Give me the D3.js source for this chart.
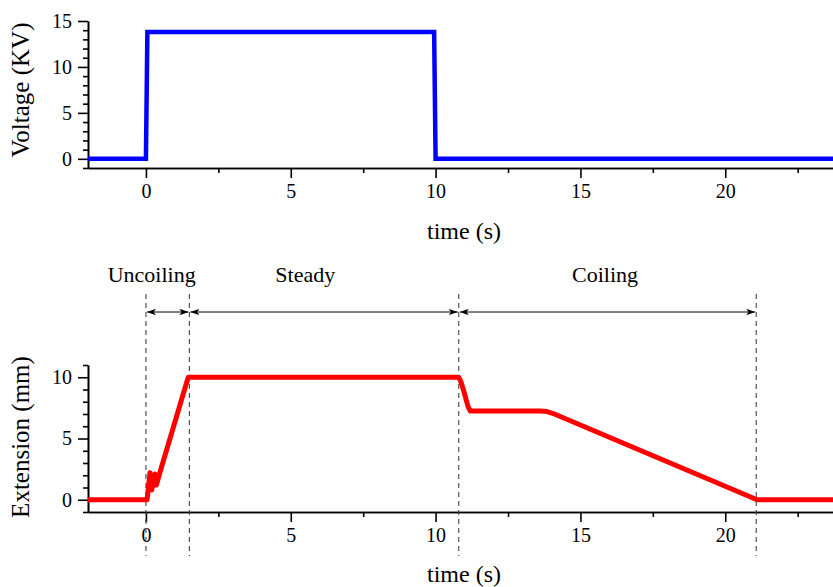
<!DOCTYPE html>
<html>
<head>
<meta charset="utf-8">
<script src="https://cdn.jsdelivr.net/npm/d3@7"></script>
<style>
  body { margin: 0; background: #fff; }
  svg text { font-family: "Liberation Serif", "Times New Roman", serif !important; fill: #000; }
</style>
</head>
<body>
<script>
// voltage trace (s, kV)
var voltTime = [-2, 0, 0.05, 9.95, 10.0, 23.8];
var voltValue = [0, 0, 13.8, 13.8, 0, 0];

// extension trace (s, mm)
var extTime = [-2, 0.04, 0.14, 0.2, 0.31, 0.36, 0.48, 1.46, 10.8, 10.88, 10.97, 11.04, 11.12, 11.2, 13.6, 13.85, 14.1, 21.1, 23.8];
var extValue = [0, 0, 2.2, 0.8, 2.1, 1.2, 2.2, 10, 10, 9.6, 8.9, 8.3, 7.6, 7.25, 7.25, 7.2, 7.0, 0, 0];

// phase boundaries and labels
var phaseLines = [0, 1.5, 10.8, 21.07];
var phaseNames = ["Uncoiling", "Steady", "Coiling"];
var phaseLabelAt = [0.2, 5.5, 15.85];

var xMajor = [0, 5, 10, 15, 20];
var xMinor = [2.5, 7.5, 12.5, 17.5, 22.5];

var W = 833, H = 587;
var svg = d3.select("body").append("svg").attr("width", W).attr("height", H);

var x = d3.scaleLinear().domain([-2, 23.72]).range([88, 833]);

var yTop = d3.scaleLinear().domain([-1, 15]).range([168, 21]);
var yBot = d3.scaleLinear().domain([-1, 11]).range([512, 365]);

function drawAxes(y, yMajor, yMinorVals, axisY) {
  var gx = svg.append("g").attr("transform", "translate(0," + axisY + ")");
  gx.call(d3.axisBottom(x).tickValues(xMajor).tickSize(10).tickSizeOuter(0).tickPadding(6));
  var gxm = svg.append("g").attr("transform", "translate(0," + axisY + ")");
  gxm.call(d3.axisBottom(x).tickValues(xMinor).tickSize(5).tickSizeOuter(0).tickFormat(""));

  var gy = svg.append("g").attr("transform", "translate(88,0)");
  gy.call(d3.axisLeft(y).tickValues(yMajor).tickSize(10).tickSizeOuter(0).tickPadding(6));
  var gym = svg.append("g").attr("transform", "translate(88,0)");
  gym.call(d3.axisLeft(y).tickValues(yMinorVals).tickSize(5).tickSizeOuter(0).tickFormat(""));

  [gx, gy].forEach(function(g) {
    g.attr("font-family", "Liberation Serif").attr("font-size", 20);
  });
  svg.selectAll(".domain").attr("stroke", "#000").attr("stroke-width", 1.6);
  svg.selectAll(".tick line").attr("stroke", "#000").attr("stroke-width", 1.6);
}

drawAxes(yTop, [0, 5, 10, 15], d3.range(-1, 16).filter(function(v){ return v % 5 !== 0; }), 168);
drawAxes(yBot, [0, 5, 10], d3.range(-1, 12).filter(function(v){ return v % 5 !== 0; }), 512);

// axis titles
svg.append("text").attr("x", 464).attr("y", 239).attr("text-anchor", "middle")
  .style("font-size", "24px").text("time (s)");
svg.append("text").attr("x", 464).attr("y", 582).attr("text-anchor", "middle")
  .style("font-size", "24px").text("time (s)");
svg.append("text").attr("transform", "translate(29,90) rotate(-90)").attr("text-anchor", "middle")
  .style("font-size", "25px").text("Voltage (KV)");
svg.append("text").attr("transform", "translate(29,437) rotate(-90)").attr("text-anchor", "middle")
  .style("font-size", "25px").text("Extension (mm)");

svg.append("clipPath").attr("id", "clip").append("rect")
  .attr("x", 88).attr("y", 0).attr("width", W - 88).attr("height", H);

// voltage line
var voltLine = d3.line().x(function(d, i){ return x(voltTime[i]); }).y(function(d){ return yTop(d); });
svg.append("path").datum(voltValue).attr("clip-path", "url(#clip)")
  .attr("fill", "none").attr("stroke", "#0000ff").attr("stroke-width", 4.5)
  .attr("d", voltLine);

// phase markers
svg.selectAll(".phase").data(phaseLines).enter().append("line")
  .attr("x1", function(d){ return x(d); }).attr("x2", function(d){ return x(d); })
  .attr("y1", 294).attr("y2", 556)
  .attr("stroke", "#444").attr("stroke-width", 1.1).attr("stroke-dasharray", "5,4");

var defs = svg.append("defs");
defs.append("marker").attr("id", "ah").attr("viewBox", "0 0 10 10")
  .attr("refX", 10).attr("refY", 5).attr("markerWidth", 9).attr("markerHeight", 9)
  .attr("markerUnits", "userSpaceOnUse").attr("orient", "auto-start-reverse")
  .append("path").attr("d", "M0,1.5 L10,5 L0,8.5 L2.5,5 Z").attr("fill", "#000");

for (var i = 0; i < phaseNames.length; i++) {
  svg.append("line")
    .attr("x1", x(phaseLines[i]) + 1).attr("x2", x(phaseLines[i + 1]) - 1)
    .attr("y1", 312).attr("y2", 312)
    .attr("stroke", "#000").attr("stroke-width", 1)
    .attr("marker-start", "url(#ah)").attr("marker-end", "url(#ah)");
  svg.append("text").attr("x", x(phaseLabelAt[i])).attr("y", 282).attr("text-anchor", "middle")
    .style("font-size", "22px").text(phaseNames[i]);
}

// extension line
var extLine = d3.line().x(function(d, i){ return x(extTime[i]); }).y(function(d){ return yBot(d); });
svg.append("path").datum(extValue).attr("clip-path", "url(#clip)")
  .attr("fill", "none").attr("stroke", "#ff0000").attr("stroke-width", 5)
  .attr("stroke-linejoin", "round")
  .attr("d", extLine);
</script>
</body>
</html>
